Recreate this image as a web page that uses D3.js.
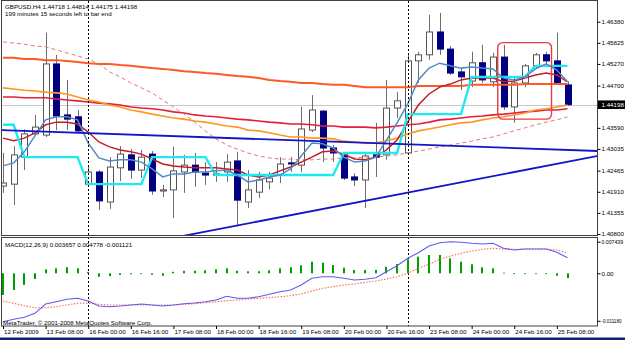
<!DOCTYPE html>
<html>
<head>
<meta charset="utf-8">
<script src="https://cdn.jsdelivr.net/npm/d3@7"></script>
<style>
  body { margin: 0; background: #fff; }
  svg { display: block; font-family: "Liberation Sans", Arial, sans-serif; }
  .axis text { font-size: 6.2px; fill: #000; }
  .axis line { stroke: #000; }
  .info { font-size: 6.2px; fill: #000; }
</style>
</head>
<body>
<div id="chart"></div>
<script>
// GBPUSD H4, bar 0 = 12 Feb 2009 16:00, bar 53 = 25 Feb 12:00
const labelBars = [0, 4, 8, 12, 16, 20, 24, 28, 32, 36, 40, 44, 48, 52];
const timeLabels = ["12 Feb 2009", "13 Feb 08:00", "16 Feb 00:00", "16 Feb 16:00", "17 Feb 08:00",
    "18 Feb 00:00", "18 Feb 16:00", "19 Feb 08:00", "20 Feb 00:00", "20 Feb 16:00",
    "23 Feb 08:00", "24 Feb 00:00", "24 Feb 16:00", "25 Feb 08:00"];
const separatorBars = [8, 38]; // week starts

const opens = [1.4206,1.4211,1.4282,1.4343,1.4340,1.4527,1.4393,1.4388,1.4211,1.4243,
    1.4164,1.4254,1.4288,1.4248,1.4290,1.4193,1.4196,1.4243,1.4261,1.4240,
    1.4235,1.4243,1.4272,1.4164,1.4190,1.4217,1.4235,1.4267,1.4261,1.4353,
    1.4403,1.4306,1.4288,1.4230,1.4222,1.4288,1.4288,1.4411,1.4293,1.4535,
    1.4551,1.4611,1.4566,1.4506,1.4482,1.4530,1.4480,1.4545,1.4414,1.4477,
    1.4522,1.4551,1.4535,1.44718];
const highs = [1.4293,1.4311,1.4355,1.4393,1.4609,1.4551,1.4485,1.4406,1.4261,1.4248,
    1.4282,1.4311,1.4303,1.4301,1.4298,1.4209,1.4309,1.4288,1.4293,1.4269,
    1.4269,1.4290,1.4296,1.4248,1.4243,1.4243,1.4282,1.4282,1.4414,1.4445,
    1.4406,1.4314,1.4293,1.4240,1.4293,1.4372,1.4485,1.4453,1.4551,1.4559,
    1.4656,1.4661,1.4574,1.4516,1.4559,1.4577,1.4556,1.4577,1.4490,1.4527,
    1.4556,1.4559,1.4609,1.44814];
const lows = [1.4188,1.4156,1.4248,1.4340,1.4335,1.4353,1.4353,1.4348,1.4209,1.4143,
    1.4146,1.4219,1.4225,1.4227,1.4183,1.4177,1.4122,1.4188,1.4204,1.4209,
    1.4217,1.4217,1.4100,1.4148,1.4175,1.4198,1.4214,1.4243,1.4243,1.4348,
    1.4269,1.4269,1.4222,1.4206,1.4148,1.4230,1.4275,1.4385,1.4290,1.4477,
    1.4538,1.4551,1.4498,1.4458,1.4466,1.4477,1.4466,1.4406,1.4372,1.4466,
    1.4516,1.4524,1.4472,1.44175];
const closes = [1.4214,1.4288,1.4343,1.4361,1.4527,1.4390,1.4382,1.4351,1.4243,1.4167,
    1.4256,1.4290,1.4248,1.4282,1.4193,1.4196,1.4246,1.4261,1.4243,1.4235,
    1.4238,1.4269,1.4169,1.4196,1.4222,1.4227,1.4264,1.4264,1.4356,1.4406,
    1.4306,1.4293,1.4227,1.4222,1.4285,1.4282,1.4411,1.4430,1.4535,1.4551,
    1.4611,1.4566,1.4503,1.4493,1.4530,1.4485,1.4545,1.4414,1.4477,1.4522,
    1.4551,1.4535,1.4474,1.44198];

// indicator lines (one value per bar)
const stepLine = [1.4367,1.4367,1.4282,1.4282,1.4282,1.4282,1.4282,1.4282,1.4211,1.4211,
    1.4211,1.4211,1.4211,1.4211,1.4282,1.4282,1.4282,1.4282,1.4282,1.4282,
    1.4235,1.4235,1.4235,1.4235,1.4235,1.4235,1.4235,1.4235,1.4235,1.4235,
    1.4235,1.4235,1.4293,1.4293,1.4293,1.4293,1.4293,1.4293,1.4395,1.4395,
    1.4395,1.4395,1.4395,1.4395,1.4493,1.4493,1.4493,1.4493,1.4493,1.4493,
    1.4522,1.4522,1.4522,1.4522];
const fastMA = [1.4259,1.4267,1.4296,1.4338,1.4380,1.4388,1.4388,1.4380,1.4319,1.4280,
    1.4272,1.4275,1.4275,1.4269,1.4251,1.4230,1.4238,1.4238,1.4243,1.4243,
    1.4246,1.4248,1.4235,1.4217,1.4222,1.4230,1.4235,1.4251,1.4285,1.4319,
    1.4317,1.4306,1.4282,1.4269,1.4272,1.4282,1.4327,1.4372,1.4422,1.4485,
    1.4516,1.4529,1.4522,1.4516,1.4519,1.4516,1.4514,1.4490,1.4485,1.4493,
    1.4514,1.4527,1.4511,1.4480];
const midMA = [1.4332,1.4325,1.4332,1.4346,1.4367,1.4374,1.4374,1.4369,1.4348,1.4322,
    1.4309,1.4301,1.4296,1.4290,1.4277,1.4264,1.4259,1.4256,1.4254,1.4254,
    1.4254,1.4251,1.4248,1.4235,1.4230,1.4235,1.4246,1.4256,1.4269,1.4282,
    1.4296,1.4298,1.4290,1.4277,1.4275,1.4282,1.4301,1.4327,1.4374,1.4419,
    1.4448,1.4466,1.4474,1.4485,1.4490,1.4490,1.4490,1.4480,1.4482,1.4490,
    1.4498,1.4503,1.4498,1.4480];
const orangeMA = [1.4464,1.4461,1.4458,1.4456,1.4453,1.4451,1.4448,1.4440,1.4432,1.4427,
    1.4419,1.4414,1.4406,1.4401,1.4395,1.4390,1.4385,1.4382,1.4377,1.4374,
    1.4369,1.4364,1.4361,1.4353,1.4351,1.4346,1.4340,1.4335,1.4335,1.4332,
    1.4332,1.4330,1.4324,1.4322,1.4319,1.4319,1.4325,1.4332,1.4343,1.4351,
    1.4356,1.4361,1.4367,1.4372,1.4374,1.4380,1.4385,1.4388,1.4393,1.4398,
    1.4406,1.4409,1.4414,1.4419];
const crimsonMA = [1.4440,1.4440,1.4438,1.4438,1.4438,1.4435,1.4432,1.4430,1.4427,1.4424,
    1.4422,1.4419,1.4414,1.4411,1.4409,1.4406,1.4401,1.4398,1.4393,1.4390,
    1.4388,1.4385,1.4382,1.4380,1.4377,1.4374,1.4372,1.4369,1.4369,1.4367,
    1.4364,1.4364,1.4361,1.4361,1.4361,1.4359,1.4361,1.4364,1.4367,1.4369,
    1.4374,1.4380,1.4382,1.4385,1.4388,1.4390,1.4393,1.4395,1.4398,1.4401,
    1.4403,1.4406,1.4406,1.4409];
const longMA = [1.4543,1.4543,1.4540,1.4540,1.4537,1.4537,1.4535,1.4532,1.4529,1.4527,
    1.4527,1.4524,1.4522,1.4519,1.4516,1.4514,1.4511,1.4508,1.4506,1.4503,
    1.4501,1.4498,1.4495,1.4493,1.4490,1.4485,1.4482,1.4480,1.4477,1.4477,
    1.4474,1.4472,1.4472,1.4469,1.4466,1.4466,1.4466,1.4466,1.4466,1.4469,
    1.4469,1.4469,1.4469,1.4469,1.4472,1.4472,1.4472,1.4472,1.4472,1.4474,
    1.4474,1.4474,1.4474,1.4474];
const dashedMA = [1.4585,1.4582,1.4579,1.4574,1.4572,1.4564,1.4556,1.4548,1.4540,1.4527,
    1.4506,1.4493,1.4477,1.4464,1.4451,1.4432,1.4414,1.4395,1.4374,1.4351,
    1.4330,1.4314,1.4303,1.4293,1.4285,1.4280,1.4277,1.4277,1.4275,1.4275,
    1.4277,1.4277,1.4280,1.4280,1.4282,1.4282,1.4285,1.4288,1.4293,1.4298,
    1.4303,1.4309,1.4314,1.4319,1.4324,1.4330,1.4335,1.4343,1.4351,1.4359,
    1.4367,1.4374,1.4380,1.4388];

// trend lines: [bar, price] anchors
const trendDown = [[-1, 1.4354], [56, 1.4298]];
const trendUp = [[16, 1.4070], [56, 1.4286]];
// hand-drawn box around the last candles
const boxBars = [46.45, 51.5];
const boxPrices = [1.4583, 1.4382];

// MACD(12,26,9)
const macdMain = [-0.01139,-0.01083,-0.01036,-0.00942,-0.00723,-0.00669,-0.00612,-0.00589,-0.00652,-0.00770,
    -0.00786,-0.00770,-0.00746,-0.00723,-0.00746,-0.00770,-0.00746,-0.00716,-0.00699,-0.00669,
    -0.00629,-0.00541,-0.00589,-0.00589,-0.00551,-0.00494,-0.00433,-0.00393,-0.00275,-0.00118,
    -0.00080,-0.00080,-0.00118,-0.00158,-0.00141,-0.00104,0.00038,0.00179,0.00353,0.00485,
    0.00643,0.00720,0.007439,0.00730,0.00706,0.00690,0.00706,0.00589,0.00548,0.00572,
    0.00572,0.00572,0.00494,0.003657];
const macdSignal = [-0.00652,-0.00706,-0.00763,-0.00810,-0.00810,-0.00786,-0.00746,-0.00706,-0.00706,-0.00730,
    -0.00746,-0.00746,-0.00746,-0.00746,-0.00746,-0.00746,-0.00746,-0.00730,-0.00716,-0.00692,
    -0.00669,-0.00645,-0.00629,-0.00605,-0.00589,-0.00574,-0.00551,-0.00527,-0.00487,-0.00417,
    -0.00353,-0.00315,-0.00275,-0.00252,-0.00212,-0.00181,-0.00134,-0.00080,0.00000,0.00118,
    0.00212,0.00330,0.00407,0.00471,0.00525,0.00565,0.00589,0.00572,0.00565,0.00572,
    0.00572,0.00572,0.00548,0.004778];
const macdHist = [-0.00511,-0.00393,-0.00275,-0.00134,0.00094,0.00118,0.00141,0.00118,0.00035,-0.00082,
    -0.00064,-0.00040,-0.00024,-0.00012,-0.00035,-0.00059,0.00035,0.00059,0.00059,0.00071,
    0.00094,0.00118,0.00059,0.00047,0.00047,0.00071,0.00118,0.00141,0.00188,0.00273,
    0.00250,0.00195,0.00132,0.00078,0.00078,0.00078,0.00155,0.00219,0.00330,0.00391,
    0.00431,0.00431,0.00353,0.00273,0.00212,0.00141,0.00118,0.00014,-0.00016,-0.00016,
    -0.00007,-0.00012,-0.00056,-0.001121];

const priceTicks = [1.46380, 1.45825, 1.45270, 1.44700, 1.43590, 1.43035, 1.42465, 1.41910, 1.41355, 1.40800];
const macdTicks = [0.007439, 0, -0.01118];
const macdTickLabels = ["0.007439", "0.00", "-0.011180"];
const lastPrice = 1.44198;

// layout
const W = 625, H = 340;
const main = { left: 2, right: 597.5, top: 1, bottom: 235.5 };
const sub = { top: 237.5, bottom: 326 };

const svg = d3.select("#chart").append("svg")
    .attr("width", W).attr("height", H);

const x = d3.scaleLinear().domain([0, 53]).range([3, 567.5]);
const y = d3.scaleLinear().domain([1.4080, 1.4638]).range([234, 21.7]);
const yM = d3.scaleLinear().domain([0, 0.007439]).range([273.3, 241.7]);

const defs = svg.append("defs");
defs.append("clipPath").attr("id", "clipMain").append("rect")
    .attr("x", main.left).attr("y", main.top)
    .attr("width", main.right - main.left).attr("height", main.bottom - main.top);
defs.append("clipPath").attr("id", "clipSub").append("rect")
    .attr("x", main.left).attr("y", sub.top)
    .attr("width", main.right - main.left).attr("height", sub.bottom - sub.top);

const px = i => Math.round(x(i)) + 0.5;

// ---- main panel ----
const gMain = svg.append("g").attr("clip-path", "url(#clipMain)");

// bid line
gMain.append("line")
    .attr("x1", main.left).attr("x2", main.right)
    .attr("y1", Math.round(y(lastPrice)) + 0.5).attr("y2", Math.round(y(lastPrice)) + 0.5)
    .attr("stroke", "#c8c8c8");

// week separators
svg.selectAll("line.sep").data(separatorBars).enter().append("line")
    .attr("class", "sep")
    .attr("x1", d => px(d)).attr("x2", d => px(d))
    .attr("y1", main.top).attr("y2", sub.bottom)
    .attr("stroke", "#000").attr("stroke-dasharray", "2,2");

// candles
const bars = d3.range(opens.length);
gMain.selectAll("line.wick").data(bars).enter().append("line")
    .attr("class", "wick")
    .attr("x1", px).attr("x2", px)
    .attr("y1", i => y(highs[i])).attr("y2", i => y(lows[i]))
    .attr("stroke", "#6e6e6e");

gMain.selectAll("rect.body").data(bars).enter().append("rect")
    .attr("class", "body")
    .attr("x", i => px(i) - 3)
    .attr("width", 6)
    .attr("y", i => y(Math.max(opens[i], closes[i])))
    .attr("height", i => Math.max(1, Math.abs(y(opens[i]) - y(closes[i]))))
    .attr("fill", i => closes[i] >= opens[i] ? "#fff" : "#000080")
    .attr("stroke", i => closes[i] >= opens[i] ? "#555" : "#000080");

// indicator lines
const line = d3.line().x((d, i) => x(i)).y(d => y(d));
const series = [
    { data: longMA, color: "#ff5a24", width: 2 },
    { data: crimsonMA, color: "#e21f3c", width: 1.6 },
    { data: orangeMA, color: "#ff9620", width: 1.6 },
    { data: dashedMA, color: "#e07a72", width: 1, dash: "4,3" },
    { data: midMA, color: "#c21d28", width: 1.5 },
    { data: stepLine, color: "#1ceaf2", width: 2.4 },
    { data: fastMA, color: "#4f8cc8", width: 1.5 }
];
series.forEach(s => {
    gMain.append("path")
        .datum(s.data)
        .attr("d", line)
        .attr("fill", "none")
        .attr("stroke", s.color)
        .attr("stroke-width", s.width)
        .attr("stroke-dasharray", s.dash || null);
});

// trend lines
[trendDown, trendUp].forEach(t => {
    gMain.append("line")
        .attr("x1", x(t[0][0])).attr("y1", y(t[0][1]))
        .attr("x2", x(t[1][0])).attr("y2", y(t[1][1]))
        .attr("stroke", "#1414c8").attr("stroke-width", 1.8);
});

// red box
gMain.append("rect")
    .attr("x", x(boxBars[0])).attr("y", y(boxPrices[0]))
    .attr("width", x(boxBars[1]) - x(boxBars[0]))
    .attr("height", y(boxPrices[1]) - y(boxPrices[0]))
    .attr("rx", 5).attr("ry", 5)
    .attr("fill", "none").attr("stroke", "#e53c46").attr("stroke-width", 1.4);

// ---- MACD panel ----
const gSub = svg.append("g").attr("clip-path", "url(#clipSub)");
gSub.selectAll("rect.hist").data(macdHist).enter().append("rect")
    .attr("class", "hist")
    .attr("x", (d, i) => Math.round(x(i)) - 1)
    .attr("width", 2)
    .attr("y", d => Math.min(yM(d), yM(0)))
    .attr("height", d => Math.max(0.8, Math.abs(yM(d) - yM(0))))
    .attr("fill", "#00a000");

const mline = d3.line().x((d, i) => x(i)).y(d => yM(d));
gSub.append("path").datum(macdSignal).attr("d", mline)
    .attr("fill", "none").attr("stroke", "#ff6a48").attr("stroke-width", 1.1)
    .attr("stroke-dasharray", "1.5,1.5");
gSub.append("path").datum(macdMain).attr("d", mline)
    .attr("fill", "none").attr("stroke", "#5c5cf0").attr("stroke-width", 1.1);

// ---- frames ----
svg.append("rect")
    .attr("x", main.left - 0.5).attr("y", main.top - 0.5)
    .attr("width", main.right - main.left + 0.5).attr("height", main.bottom - main.top + 0.5)
    .attr("fill", "none").attr("stroke", "#404040");
svg.append("rect")
    .attr("x", main.left - 0.5).attr("y", sub.top)
    .attr("width", main.right - main.left + 0.5).attr("height", sub.bottom - sub.top)
    .attr("fill", "none").attr("stroke", "#404040");

// ---- axes ----
svg.append("g").attr("class", "axis")
    .attr("transform", `translate(${main.right},0)`)
    .call(d3.axisRight(y).tickValues(priceTicks).tickSize(3).tickPadding(1).tickFormat(d3.format(".5f")))
    .call(g => g.select(".domain").remove());

// MACD scale labels are smaller so they fit the narrow right margin
svg.append("g").attr("class", "axis")
    .attr("transform", `translate(${main.right},0)`)
    .call(d3.axisRight(yM).tickValues(macdTicks).tickSize(3).tickPadding(1)
        .tickFormat((d, i) => macdTickLabels[i]))
    .call(g => g.select(".domain").remove())
    .call(g => g.selectAll("text")
        .style("font-size", (d, i) => macdTickLabels[i].length > 8 ? "4.6px" : macdTickLabels[i].length > 4 ? "5.2px" : null));

svg.append("g").attr("class", "axis")
    .attr("transform", `translate(0,${sub.bottom})`)
    .call(d3.axisBottom(x).tickValues(labelBars).tickSize(3).tickPadding(1)
        .tickFormat((d, i) => timeLabels[i]))
    .call(g => g.select(".domain").remove())
    .call(g => g.selectAll("text").attr("text-anchor", "start").attr("dx", "0.5"));

// current price tag
const tagY = y(lastPrice);
svg.append("rect")
    .attr("x", main.right + 0.5).attr("y", tagY - 4.3)
    .attr("width", W - main.right).attr("height", 8.6)
    .attr("fill", "#000");
svg.append("text").attr("class", "info")
    .attr("x", main.right + 4).attr("y", tagY + 2.2)
    .style("fill", "#fff")
    .text(d3.format(".5f")(lastPrice));

// ---- texts ----
svg.append("text").attr("class", "info").attr("x", 5).attr("y", 9)
    .text("GBPUSD,H4  1.44718 1.44814 1.44175 1.44198");
svg.append("text").attr("class", "info").attr("x", 5).attr("y", 16.3)
    .text("199 minutes 15 seconds left to bar end");
svg.append("text").attr("class", "info").attr("x", 5).attr("y", 246.6)
    .text("MACD(12,26,9) 0.003657 0.004778 -0.001121");
svg.append("text").attr("class", "info").attr("x", 3).attr("y", 325)
    .text("MetaTrader, © 2001-2008 MetaQuotes Software Corp.");

// bottom strip
svg.append("rect")
    .attr("x", 0).attr("y", 337.5).attr("width", W).attr("height", 3)
    .attr("fill", "#0e2270");
</script>
</body>
</html>
